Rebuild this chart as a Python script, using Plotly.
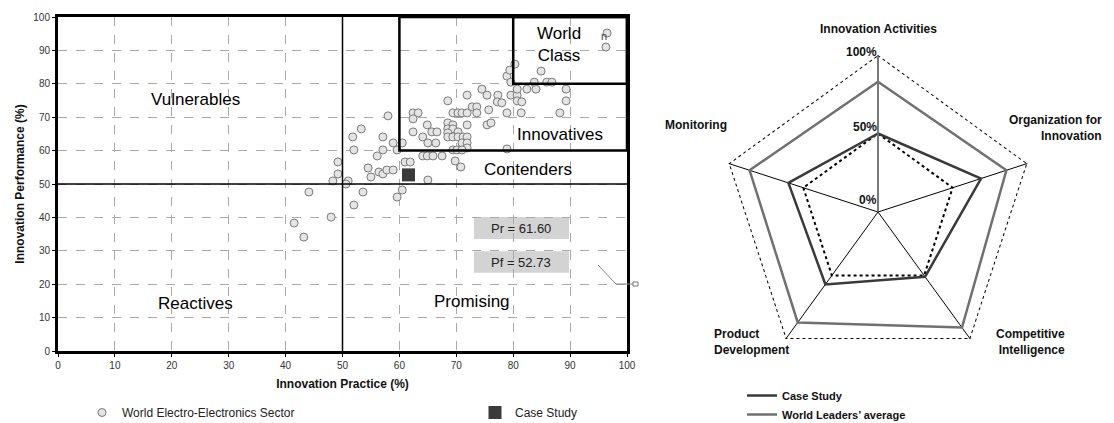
import plotly.graph_objects as go

# ---- left panel: innovation practice vs performance ----
sector_x = [41.5, 43.2, 48.0, 52.0, 44.1, 53.6, 59.6, 60.5, 48.3, 51.0, 50.6, 49.2, 49.2, 52.0,
            51.8, 53.3, 56.1, 57.1, 57.1, 58.9, 60.5, 59.6, 58.0, 54.5, 55.0, 56.4, 57.1, 57.8,
            58.9, 61.0, 61.9, 62.4, 63.3, 62.4, 62.4, 64.1, 64.9, 65.7, 66.6, 65.0, 66.4, 64.1,
            64.9, 65.9, 67.5, 65.0, 69.8, 70.8, 68.5, 69.4, 70.3, 71.0, 71.9, 72.8, 73.6, 73.6,
            75.7, 75.4, 71.9, 68.5, 69.4, 68.5, 69.4, 68.5, 70.3, 68.5, 69.4, 70.3, 71.2, 71.9,
            71.0, 71.9, 71.9, 69.4, 70.1, 71.0, 71.9, 74.5, 75.4, 77.3, 77.2, 78.0, 78.9, 81.4,
            76.1, 78.9, 79.6, 80.7, 80.7, 82.4, 84.0, 80.7, 81.5, 78.9, 79.4, 80.3, 79.6, 83.7,
            85.9, 86.8, 84.9, 89.3, 89.3, 88.2, 96.5, 96.3]
sector_y = [38.3, 34.1, 40.1, 43.7, 47.6, 47.6, 46.1, 48.2, 50.9, 50.9, 50.0, 53.0, 56.6, 60.2,
            64.1, 66.5, 58.4, 60.2, 64.1, 62.3, 62.3, 60.2, 70.4, 54.8, 52.1, 53.6, 53.0, 54.2,
            54.2, 56.6, 56.6, 71.3, 71.3, 69.5, 65.6, 64.1, 67.7, 65.6, 65.6, 62.3, 62.3, 58.4,
            58.4, 58.4, 58.4, 51.2, 56.9, 55.1, 74.9, 71.3, 71.3, 71.3, 71.3, 73.1, 73.1, 71.3,
            72.2, 67.7, 67.7, 68.3, 67.7, 66.5, 66.5, 65.3, 65.6, 64.1, 64.1, 64.1, 64.1, 64.1,
            62.3, 62.3, 60.8, 60.2, 60.2, 60.2, 76.6, 78.4, 76.6, 76.6, 74.6, 74.3, 71.3, 71.3,
            68.3, 60.5, 76.6, 76.6, 78.4, 78.4, 78.4, 74.9, 74.6, 82.3, 84.1, 85.9, 80.5, 80.5,
            80.5, 80.5, 83.8, 78.4, 74.9, 71.3, 95.2, 91.0]

case_practice = 61.60
case_performance = 52.73

quadrant_cut = 50
innovative_cut = 60
world_class_cut = 80

# ---- right panel: radar ----
radar_axes = ["Innovation Activities", "Organization for Innovation", "Competitive Intelligence",
              "Product Development", "Monitoring"]
case_study = [50, 69, 51, 57, 60]
world_leaders = [83, 86, 91, 87, 86]
radar_ticks = [0, 50, 100]

FONT = "Liberation Sans, Arial, sans-serif"
W, H = 1114, 423
OFF = 8  # default page body margin
FW, FH = W - OFF, H - OFF


def px(x):
    # window pixel -> paper x
    return (x - OFF) / FW


def py(y):
    # window pixel -> paper y
    return 1 - (y - OFF) / FH


fig = go.Figure()

fig.add_trace(go.Scatter(
    x=sector_x, y=sector_y, mode="markers", name="World Electro-Electronics Sector",
    marker=dict(symbol="circle", size=8, color="#e4e4e4", line=dict(color="#7a7a7a", width=1)),
    legend="legend",
))
fig.add_trace(go.Scatter(
    x=[case_practice], y=[case_performance], mode="markers", name="Case Study",
    marker=dict(symbol="square", size=13, color="#3a3a3a"),
    legend="legend",
))

closed = radar_axes + radar_axes[:1]
# dotted outer frame at 100%
fig.add_trace(go.Scatterpolar(
    r=[radar_ticks[-1]] * len(closed), theta=closed, mode="lines", showlegend=False,
    line=dict(color="black", width=2, dash="3px,3px"), hoverinfo="skip",
))
fig.add_trace(go.Scatterpolar(
    r=case_study + case_study[:1], theta=closed, mode="lines", name="Case Study",
    line=dict(color="#3a3a3a", width=2.5), legend="legend2",
))
fig.add_trace(go.Scatterpolar(
    r=world_leaders + world_leaders[:1], theta=closed, mode="lines", name="World Leaders’ average",
    line=dict(color="#707070", width=2.5), legend="legend2",
))

shapes = [
    dict(type="line", xref="x", yref="y", x0=quadrant_cut, x1=quadrant_cut, y0=0, y1=100,
         line=dict(color="black", width=1.5)),
    dict(type="line", xref="x", yref="y", x0=0, x1=100, y0=quadrant_cut, y1=quadrant_cut,
         line=dict(color="black", width=1.5)),
    dict(type="rect", xref="x", yref="y", x0=innovative_cut, x1=100, y0=innovative_cut, y1=100,
         line=dict(color="black", width=2.5)),
    dict(type="rect", xref="x", yref="y", x0=world_class_cut, x1=100, y0=world_class_cut, y1=100,
         line=dict(color="black", width=2.5)),
    dict(type="rect", xref="x", yref="y", x0=73.1, x1=89.8, y0=33.5, y1=40.1,
         fillcolor="#d3d3d3", line=dict(width=0), layer="below"),
    dict(type="rect", xref="x", yref="y", x0=73.1, x1=89.8, y0=23.4, y1=29.9,
         fillcolor="#d3d3d3", line=dict(width=0), layer="below"),
    dict(type="path", xref="paper", yref="paper",
         path=f"M {px(598)} {py(265)} L {px(616)} {py(284)} L {px(633)} {py(284)}",
         line=dict(color="#888", width=1)),
    dict(type="rect", xref="paper", yref="paper", x0=px(633), x1=px(638),
         y0=py(286), y1=py(282), line=dict(color="#777", width=1), fillcolor="white"),
]

annotations = []
for txt, x, y in [("Vulnerables", 24.1, 75.4), ("Reactives", 24.1, 14.1),
                  ("Promising", 72.8, 14.7), ("Contenders", 82.6, 54.2),
                  ("Innovatives", 88.2, 64.7), ("World<br>Class", 88.0, 91.8)]:
    annotations.append(dict(x=x, y=y, xref="x", yref="y", text=txt, showarrow=False,
                            font=dict(family=FONT, size=17, color="black")))
annotations.append(dict(x=96.0, y=94.2, xref="x", yref="y", text="n", showarrow=False,
                        font=dict(family=FONT, size=11, color="#444")))
for txt, y in [(f"Pr = {case_practice:.2f}", 36.8), (f"Pf = {case_performance:.2f}", 26.6)]:
    annotations.append(dict(x=81.4, y=y, xref="x", yref="y", text=txt, showarrow=False,
                            font=dict(family=FONT, size=13, color="#222")))

bold = dict(family=FONT, size=12, color="#111")
for txt, lx, ly, anchor, align in [
    ("<b>Innovation Activities</b>", 878, 29, "center", "center"),
    ("<b>Monitoring</b>", 663, 125, "left", "left"),
    ("<b>Organization for<br>Innovation</b>", 1104, 128, "right", "right"),
    ("<b>Product<br>Development</b>", 712, 342, "left", "left"),
    ("<b>Competitive<br>Intelligence</b>", 1067, 342, "right", "right"),
]:
    annotations.append(dict(x=px(lx), y=py(ly), xref="paper", yref="paper", text=txt,
                            showarrow=False, xanchor=anchor, yanchor="middle", align=align,
                            font=bold))

# radial tick labels, to the left of the top spoke
cx, cy, rad = 878, 212, 157
label_lift = {0: 12, 50: 7, 100: 3}
for t in radar_ticks:
    annotations.append(dict(x=px(cx + 1), y=py(cy - rad * t / 100 - label_lift[t]), xref="paper",
                            yref="paper", text=f"<b>{t}%</b>", showarrow=False,
                            xanchor="right", yanchor="middle", font=bold))

fig.update_layout(
    width=FW, height=FH,
    margin=dict(l=0, r=0, t=0, b=0, autoexpand=False),
    paper_bgcolor="white", plot_bgcolor="white",
    font=dict(family=FONT, color="#222"),
    shapes=shapes, annotations=annotations,
    xaxis=dict(domain=[px(58), px(627)], range=[0, 100], dtick=10, automargin=False,
               showgrid=True, gridcolor="#aaaaaa", griddash="dash", gridwidth=1,
               showline=True, linecolor="black", linewidth=3, mirror=True,
               ticks="outside", ticklen=3, tickcolor="black", zeroline=False,
               tickfont=dict(size=10, color="#333"),
               title=dict(text="<b>Innovation Practice (%)</b>", font=dict(size=12, color="#111"),
                          standoff=10)),
    yaxis=dict(domain=[py(351), py(17)], range=[0, 100], dtick=10, automargin=False,
               showgrid=True, gridcolor="#aaaaaa", griddash="dash", gridwidth=1,
               showline=True, linecolor="black", linewidth=3, mirror=True,
               ticks="outside", ticklen=3, tickcolor="black", zeroline=False,
               tickfont=dict(size=10, color="#333"),
               title=dict(text="<b>Innovation Performance (%)</b>", font=dict(size=12, color="#111"),
                          standoff=7)),
    polar=dict(
        domain=dict(x=[px(cx - rad), px(cx + rad)], y=[py(cy + rad), py(cy - rad)]),
        gridshape="linear", bgcolor="white",
        radialaxis=dict(range=[0, 100], tickvals=radar_ticks, showticklabels=False,
                        angle=90, showgrid=True, gridcolor="black", griddash="3px,3px", gridwidth=2,
                        showline=True, linecolor="#777", linewidth=1.5, ticks=""),
        angularaxis=dict(direction="clockwise", rotation=90, showticklabels=False, ticks="",
                         showgrid=True, gridcolor="black", gridwidth=1, showline=False)),
    legend=dict(orientation="h", x=px(82), y=py(398), yanchor="top", xanchor="left",
                entrywidth=348, entrywidthmode="pixels", bgcolor="rgba(0,0,0,0)",
                font=dict(family=FONT, size=12, color="#222")),
    legend2=dict(orientation="v", x=px(742), y=py(381), yanchor="top", xanchor="left",
                 tracegroupgap=0, bgcolor="rgba(0,0,0,0)",
                 font=dict(family=FONT, size=11, color="#111", weight="bold")),
)

fig.write_html("out.html")
